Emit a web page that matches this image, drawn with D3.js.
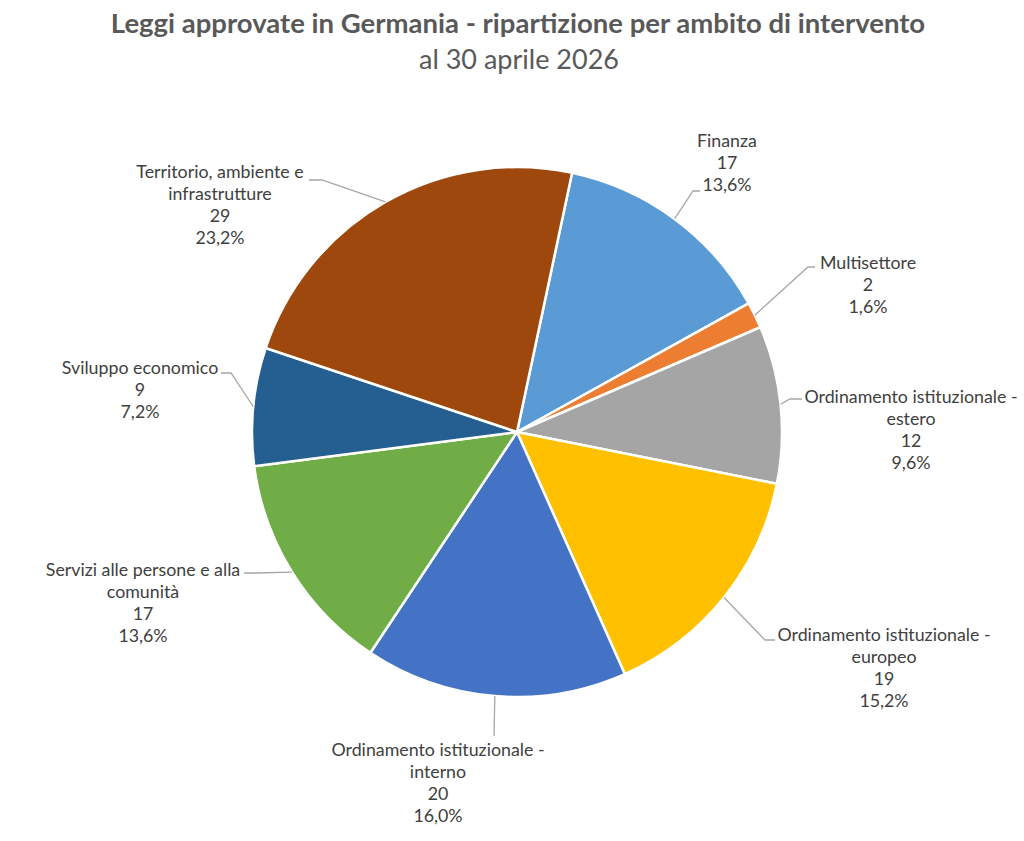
<!DOCTYPE html>
<html>
<head>
<meta charset="utf-8">
<script src="https://cdn.jsdelivr.net/npm/d3@7"></script>
<style>
  body { margin: 0; background: #fff; }
  svg { display: block; }
  text { font-family: Lato, "Open Sans", sans-serif; }
</style>
</head>
<body>
<div id="chart"></div>
<script>
// categories, counts, colours (in clockwise order, as drawn)
const categories = [
  "Finanza",
  "Multisettore",
  "Ordinamento istituzionale - estero",
  "Ordinamento istituzionale - europeo",
  "Ordinamento istituzionale - interno",
  "Servizi alle persone e alla comunità",
  "Sviluppo economico",
  "Territorio, ambiente e infrastrutture"
];
const counts = [17, 2, 12, 19, 20, 17, 9, 29];
const percents = ["13,6%", "1,6%", "9,6%", "15,2%", "16,0%", "13,6%", "7,2%", "23,2%"];
// how each label is broken into lines
const labelLines = [
  ["Finanza"],
  ["Multisettore"],
  ["Ordinamento istituzionale -", "estero"],
  ["Ordinamento istituzionale -", "europeo"],
  ["Ordinamento istituzionale -", "interno"],
  ["Servizi alle persone e alla", "comunità"],
  ["Sviluppo economico"],
  ["Territorio, ambiente e", "infrastrutture"]
];
const colors = ["#5B9BD5", "#ED7D31", "#A5A5A5", "#FFC000", "#4472C4", "#70AD47", "#255E91", "#9E480E"];

const width = 1024, height = 841;
const cx = 517, cy = 432, radius = 265;
const startDeg = 12;

// label placement: text block centre x, first line y, leader elbow/end
const labelLayout = [
  {x: 727, y: 147, elbow: [693, 191], end: [700, 191]},
  {x: 868, y: 269, elbow: [808, 267], end: [815, 267]},
  {x: 911, y: 403, elbow: [790, 399], end: [802, 399]},
  {x: 884, y: 641, elbow: [765, 640], end: [775, 640]},
  {x: 438, y: 756, elbow: [494, 736], end: [494, 736]},
  {x: 143, y: 576, elbow: [256, 573], end: [244, 573]},
  {x: 140, y: 374, elbow: [231, 373], end: [221, 373]},
  {x: 220, y: 178, elbow: [322, 180], end: [309, 180]}
];
const lineH = 22;

const data = categories.map((c, i) => ({name: c, value: counts[i], pct: percents[i], lines: labelLines[i], color: colors[i], pos: labelLayout[i]}));

const svg = d3.select("#chart").append("svg")
  .attr("width", width)
  .attr("height", height);

svg.append("text")
  .attr("x", 518).attr("y", 33)
  .attr("text-anchor", "middle")
  .attr("font-size", 27.5).attr("font-weight", "bold")
  .attr("fill", "#595959")
  .text("Leggi approvate in Germania - ripartizione per ambito di intervento");

svg.append("text")
  .attr("x", 519).attr("y", 69)
  .attr("text-anchor", "middle")
  .attr("font-size", 27)
  .attr("fill", "#595959")
  .text("al 30 aprile 2026");

const pie = d3.pie()
  .value(d => d.value)
  .sort(null)
  .startAngle(startDeg * Math.PI / 180)
  .endAngle((startDeg + 360) * Math.PI / 180);

const arc = d3.arc().innerRadius(0).outerRadius(radius);
const arcs = pie(data);

const g = svg.append("g").attr("transform", `translate(${cx},${cy})`);

g.selectAll("path")
  .data(arcs)
  .enter()
  .append("path")
  .attr("d", arc)
  .attr("fill", d => d.data.color)
  .attr("stroke", "#fff")
  .attr("stroke-width", 2.5)
  .attr("stroke-linejoin", "round");

// leader lines start at the mid angle on the pie edge
svg.append("g")
  .selectAll("polyline")
  .data(arcs)
  .enter()
  .append("polyline")
  .attr("points", d => {
    const a = (d.startAngle + d.endAngle) / 2;
    const p0 = [cx + radius * Math.sin(a), cy - radius * Math.cos(a)];
    return [p0, d.data.pos.elbow, d.data.pos.end].map(p => p.join(",")).join(" ");
  })
  .attr("fill", "none")
  .attr("stroke", "#A6A6A6")
  .attr("stroke-width", 1.3);

const labels = svg.append("g")
  .selectAll("text")
  .data(arcs)
  .enter()
  .append("text")
  .attr("text-anchor", "middle")
  .attr("font-size", 17.8)
  .attr("fill", "#404040");

labels.each(function(d) {
  const t = d3.select(this);
  const rows = d.data.lines.concat([String(d.data.value), d.data.pct]);
  rows.forEach((r, i) => {
    t.append("tspan")
      .attr("x", d.data.pos.x)
      .attr("y", d.data.pos.y + i * lineH)
      .text(r);
  });
});
</script>
</body>
</html>
